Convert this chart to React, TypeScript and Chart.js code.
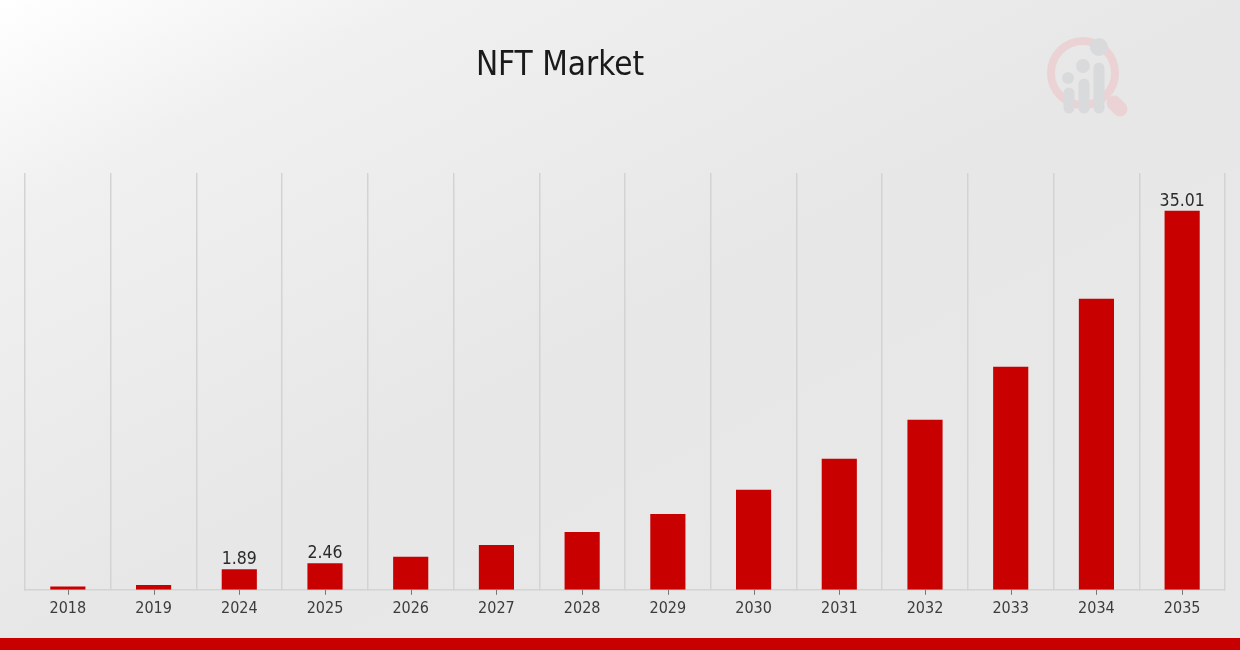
import React, { useEffect, useRef } from "react";
import { Chart, registerables } from "chart.js";

Chart.register(...registerables);

const categories = ["2018", "2019", "2024", "2025", "2026", "2027", "2028", "2029", "2030", "2031", "2032", "2033", "2034", "2035"];
const marketValues = [0.3, 0.45, 1.89, 2.46, 3.05, 4.15, 5.35, 7.0, 9.25, 12.1, 15.7, 20.6, 26.9, 35.01];
const labelledCategories = ["2024", "2025", "2035"];
const titleText = "NFT Market";
const FONT = "'DejaVu Sans Condensed', 'DejaVu Sans', sans-serif";

const backdrop = {
  id: "backdrop",
  beforeDraw(chart: any) {
    const { ctx, width, height } = chart;
    ctx.save();
    const g = ctx.createLinearGradient(0, 0, 534, 1020);
    g.addColorStop(0, "#ffffff");
    g.addColorStop(0.17, "#f0f0f0");
    g.addColorStop(0.5, "#e7e7e7");
    g.addColorStop(1, "#e8e8e8");
    ctx.fillStyle = g;
    ctx.fillRect(0, 0, width, height);
    // watermark logo
    ctx.strokeStyle = "#ebd3d5";
    ctx.lineWidth = 8;
    ctx.beginPath();
    ctx.arc(1083, 73, 32, 0, Math.PI * 2);
    ctx.stroke();
    ctx.lineCap = "round";
    ctx.lineWidth = 15;
    ctx.beginPath();
    ctx.moveTo(1114, 103);
    ctx.lineTo(1120, 109);
    ctx.stroke();
    ctx.strokeStyle = "#d8dadc";
    ctx.lineWidth = 11;
    [[1069, 93], [1084, 84], [1099, 68]].forEach(([x, y]) => {
      ctx.beginPath();
      ctx.moveTo(x, y);
      ctx.lineTo(x, 108);
      ctx.stroke();
    });
    ctx.fillStyle = "#d8dadc";
    [[1068, 78, 6], [1083, 66, 7], [1099, 47, 9]].forEach(([x, y, r]) => {
      ctx.beginPath();
      ctx.arc(x, y, r, 0, Math.PI * 2);
      ctx.fill();
    });
    // bottom band
    ctx.fillStyle = "#c80000";
    ctx.fillRect(0, 638, width, height - 638);
    ctx.restore();
  },
};

const moveTitle = {
  id: "moveTitle",
  afterLayout(chart: any) {
    if (chart.titleBlock) {
      chart.titleBlock.left = 0;
      chart.titleBlock.right = 1120;
    }
  },
};

const centreTicks = {
  id: "centreTicks",
  afterDraw(chart: any) {
    const { ctx } = chart;
    const xScale = chart.scales.x;
    const bottom = chart.chartArea.bottom;
    ctx.save();
    ctx.strokeStyle = "#777777";
    ctx.lineWidth = 1;
    categories.forEach((_, i) => {
      const x = Math.round(xScale.getPixelForValue(i)) + 0.5;
      ctx.beginPath();
      ctx.moveTo(x, bottom);
      ctx.lineTo(x, bottom + 5);
      ctx.stroke();
    });
    ctx.restore();
  },
};

const valueLabels = {
  id: "valueLabels",
  afterDatasetsDraw(chart: any) {
    const { ctx } = chart;
    const meta = chart.getDatasetMeta(0);
    ctx.save();
    ctx.font = `17.5px ${FONT}`;
    ctx.fillStyle = "#2a2a2a";
    ctx.textAlign = "center";
    ctx.textBaseline = "bottom";
    categories.forEach((c, i) => {
      if (labelledCategories.includes(c)) {
        ctx.fillText(String(marketValues[i]), meta.data[i].x, meta.data[i].y - 1);
      }
    });
    ctx.restore();
  },
};

export default function App() {
  const ref = useRef<HTMLCanvasElement>(null);
  useEffect(() => {
    document.body.style.margin = "0";
    const chart = new Chart(ref.current!, {
      type: "bar",
      data: {
        labels: categories,
        datasets: [
          {
            label: "NFT Market",
            data: marketValues,
            backgroundColor: "#c80000",
            barPercentage: 0.41,
            categoryPercentage: 1,
          },
        ],
      },
      options: {
        animation: false,
        responsive: false,
        devicePixelRatio: 1,
        layout: { padding: { left: 25, right: 15, top: 0, bottom: 23 } },
        plugins: {
          legend: { display: false },
          tooltip: { enabled: false },
          title: {
            display: true,
            text: titleText,
            color: "#1a1a1a",
            font: { family: FONT, size: 33, weight: "normal" },
            padding: { top: 46.5, bottom: 87 },
          },
        },
        scales: {
          x: {
            grid: { color: "#d2d3d3", lineWidth: 1.5, tickLength: 0, drawOnChartArea: true },
            border: { color: "#d2d3d3", width: 1.5 },
            ticks: { color: "#3c3c3c", font: { family: FONT, size: 16 }, maxRotation: 0, autoSkip: false, padding: 9 },
          },
          y: { display: false, min: 0, max: 38.5 },
        },
      },
      plugins: [backdrop, moveTitle, centreTicks, valueLabels],
    } as any);
    return () => chart.destroy();
  }, []);
  return <canvas ref={ref} width={1240} height={650} style={{ display: "block", filter: "blur(0.6px)" }} />;
}
